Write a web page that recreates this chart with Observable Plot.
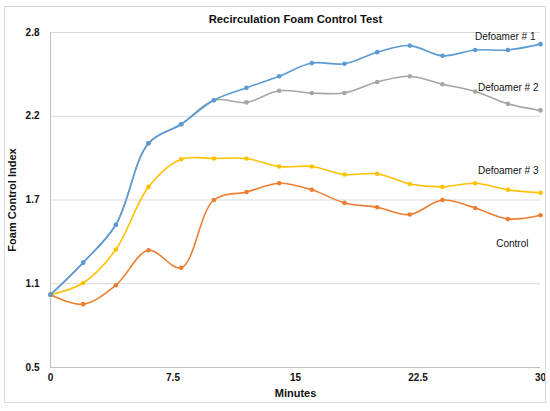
<!DOCTYPE html>
<html>
<head>
<meta charset="utf-8">
<script src="https://cdn.jsdelivr.net/npm/d3@7"></script>
<script src="https://cdn.jsdelivr.net/npm/@observablehq/plot@0.6"></script>
<style>
  body { margin: 0; background: #fff; }
  #wrap { position: relative; width: 550px; height: 411px; }
  #border { position: absolute; left: 4px; top: 6px; width: 540px; height: 395px; border: 1px solid #d9d9d9; pointer-events: none; }
  #chart svg { display: block; }
</style>
</head>
<body>
<div id="wrap">
  <div id="chart"></div>
  <div id="border"></div>
</div>
<script>
const minutes = [0, 2, 4, 6, 8, 10, 12, 14, 16, 18, 20, 22, 24, 26, 28, 30];
const defoamer1 = [1.0, 1.22, 1.48, 2.04, 2.17, 2.335, 2.42, 2.50, 2.59, 2.585, 2.665, 2.71, 2.64, 2.68, 2.68, 2.72];
const defoamer2 = [1.0, 1.22, 1.48, 2.04, 2.17, 2.335, 2.32, 2.40, 2.385, 2.385, 2.46, 2.50, 2.445, 2.395, 2.31, 2.265];
const defoamer3 = [1.0, 1.08, 1.31, 1.74, 1.93, 1.935, 1.935, 1.88, 1.88, 1.825, 1.83, 1.76, 1.74, 1.765, 1.72, 1.70];
const control = [1.0, 0.935, 1.065, 1.305, 1.185, 1.65, 1.705, 1.765, 1.72, 1.63, 1.60, 1.55, 1.65, 1.595, 1.52, 1.545];

const xTicks = [0, 7.5, 15, 22.5, 30];
const xTickLabels = ["0", "7.5", "15", "22.5", "30"];
const yTicks = [0.5, 1.075, 1.65, 2.225, 2.8];
const yTickLabels = ["0.5", "1.1", "1.7", "2.2", "2.8"];

// drawing order: gray under blue, blue on top
const series = [
  {name: "Defoamer # 2", values: defoamer2, color: "#a5a5a5", dx: -2, dy: -23},
  {name: "Defoamer # 3", values: defoamer3, color: "#ffc000", dx: -2, dy: -22},
  {name: "Control", values: control, color: "#ed7d31", dx: -12, dy: 29},
  {name: "Defoamer # 1", values: defoamer1, color: "#5b9bd5", dx: -5, dy: -7}
];

const rows = series.flatMap(s => minutes.map((m, i) => ({name: s.name, x: m, y: s.values[i]})));

const seriesMarks = series.flatMap(s => {
  const pts = rows.filter(d => d.name === s.name);
  const last = pts[pts.length - 1];
  return [
    Plot.line(pts, {x: "x", y: "y", stroke: s.color, strokeWidth: 1.6, curve: "catmull-rom"}),
    Plot.dot(pts, {x: "x", y: "y", fill: s.color, r: 2.3}),
    Plot.text([last], {x: "x", y: "y", text: () => s.name, textAnchor: "end", dx: s.dx, dy: s.dy, fontSize: 10, fill: "#111"})
  ];
});

const chart = Plot.plot({
  width: 550,
  height: 411,
  marginLeft: 50,
  marginRight: 10,
  marginTop: 32,
  marginBottom: 44,
  style: {fontFamily: "Liberation Sans, Arial, sans-serif", background: "transparent"},
  x: {domain: [0, 30]},
  y: {domain: [0.5, 2.8]},
  marks: [
    Plot.ruleY(yTicks.slice(1), {stroke: "#d9d9d9", strokeWidth: 1}),
    Plot.ruleY([0.5], {stroke: "#bfbfbf", strokeWidth: 1}),
    Plot.ruleX([0], {stroke: "#bfbfbf", strokeWidth: 1}),
    Plot.axisX({ticks: xTicks, tickFormat: (d, i) => xTickLabels[i], tickSize: 0, tickPadding: 6, fontSize: 10, fontWeight: "bold", label: null, fill: "#111"}),
    Plot.axisY({ticks: yTicks, tickFormat: (d, i) => yTickLabels[i], tickSize: 0, tickPadding: 11, fontSize: 10, fontWeight: "bold", label: null, fill: "#111"}),
    ...seriesMarks,
    Plot.text(["Recirculation Foam Control Test"], {frameAnchor: "top", text: d => d, dy: -18, fontSize: 11.3, fontWeight: "bold", fill: "#111"}),
    Plot.text(["Minutes"], {frameAnchor: "bottom", text: d => d, dy: 29, fontSize: 11, fontWeight: "bold", fill: "#111"}),
    Plot.text(["Foam Control Index"], {frameAnchor: "left", textAnchor: "middle", text: d => d, rotate: -90, dx: -38, fontSize: 11, fontWeight: "bold", fill: "#111"})
  ]
});

d3.select("#chart").append(() => chart);
</script>
</body>
</html>
